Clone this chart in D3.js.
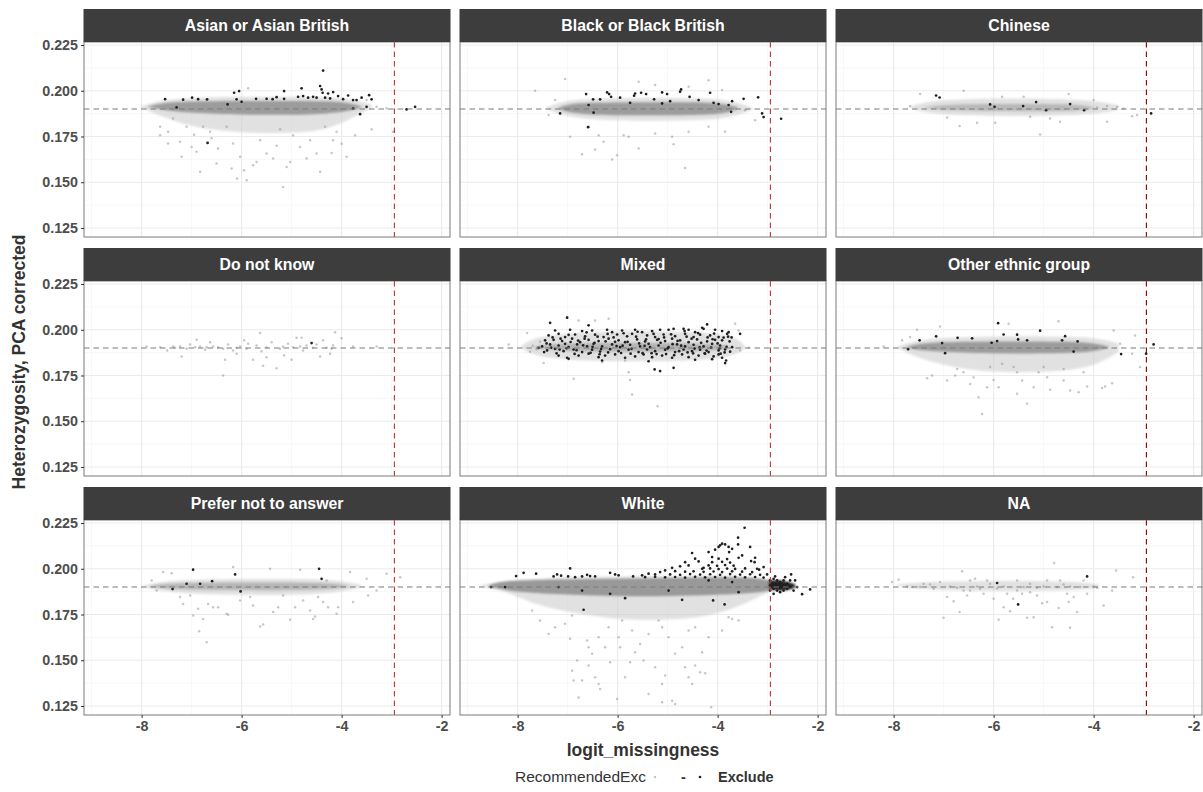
<!DOCTYPE html>
<html><head><meta charset="utf-8">
<script src="https://cdn.jsdelivr.net/npm/d3@7"></script>
<style>body{margin:0;background:#fff}svg{display:block}</style>
</head><body><svg id="c" width="1203" height="792"></svg>
<script>
// ---------------- DATA ----------------
const panelNames = ["Asian or Asian British","Black or Black British","Chinese","Do not know","Mixed","Other ethnic group","Prefer not to answer","White","NA"];
const xTicks = [-8,-6,-4,-2];
const xMinor = [-9,-7,-5,-3];
const yTicks = [0.125,0.15,0.175,0.2,0.225];
const yMinor = [0.1375,0.1625,0.1875,0.2125];
const hetMean = 0.19;
const missThreshold = -2.944;
const legendLevels = ["-","Exclude"];

// dense-core bands [x, low, high]
const asianCore = [[-7.9,0.1912,0.1912],[-7.6,0.1895,0.1935],[-7.0,0.1878,0.1942],[-6.0,0.1868,0.1944],[-5.0,0.1868,0.1944],[-4.3,0.1874,0.1943],[-3.9,0.1885,0.1937],[-3.6,0.1910,0.1914]];
const asianHalo = [[-8.05,0.1912,0.1912],[-7.6,0.1860,0.1950],[-7.0,0.1800,0.1962],[-6.0,0.1768,0.1968],[-5.0,0.1768,0.1968],[-4.3,0.1785,0.1966],[-3.8,0.1850,0.1955],[-3.4,0.1905,0.1925]];
const blackCore = [[-7.2,0.1905,0.1905],[-7.0,0.1880,0.1928],[-6.5,0.1868,0.1935],[-5.5,0.1865,0.1938],[-4.5,0.1867,0.1938],[-3.9,0.1872,0.1932],[-3.6,0.1900,0.1910]];
const blackHalo = [[-7.45,0.1905,0.1905],[-7.1,0.1862,0.1945],[-6.5,0.1840,0.1958],[-5.5,0.1835,0.1962],[-4.5,0.1838,0.1960],[-3.9,0.1845,0.1955],[-3.45,0.1880,0.1925],[-3.3,0.1900,0.1905]];
const chineseCore = [[-7.4,0.1908,0.1908],[-7.0,0.1893,0.1925],[-6.0,0.1888,0.1928],[-5.0,0.1888,0.1928],[-4.3,0.1890,0.1925],[-4.0,0.1905,0.1910]];
const chineseHalo = [[-7.7,0.1910,0.1910],[-7.3,0.1870,0.1950],[-6.0,0.1862,0.1958],[-5.0,0.1862,0.1958],[-4.0,0.1870,0.1948],[-3.5,0.1895,0.1920]];
const mixedCore = [[-7.7,0.1905,0.1905],[-7.4,0.1885,0.1925],[-6.0,0.1878,0.1930],[-4.5,0.1880,0.1928],[-3.8,0.1895,0.1915]];
const mixedHalo = [[-7.95,0.1905,0.1905],[-7.6,0.1840,0.1975],[-6.0,0.1825,0.1995],[-4.5,0.1830,0.1990],[-3.7,0.1850,0.1975],[-3.45,0.1900,0.1910]];
const otherCore = [[-7.75,0.1905,0.1905],[-7.5,0.1885,0.1928],[-6.5,0.1872,0.1935],[-5.5,0.1870,0.1937],[-4.5,0.1872,0.1935],[-4.0,0.1880,0.1928],[-3.7,0.1903,0.1908]];
const otherHalo = [[-7.95,0.1905,0.1905],[-7.5,0.1840,0.1950],[-6.5,0.1775,0.1962],[-5.5,0.1765,0.1965],[-4.5,0.1775,0.1962],[-3.9,0.1810,0.1955],[-3.5,0.1880,0.1925]];
const preferCore = [[-7.85,0.1905,0.1905],[-7.5,0.1888,0.1922],[-6.0,0.1882,0.1925],[-4.5,0.1884,0.1925],[-4.0,0.1895,0.1915],[-3.85,0.1905,0.1905]];
const preferHalo = [[-8.0,0.1905,0.1905],[-7.5,0.1868,0.1940],[-6.0,0.1855,0.1945],[-4.5,0.1858,0.1945],[-3.9,0.1880,0.1930],[-3.6,0.1900,0.1910]];
const whiteCore = [[-8.6,0.1905,0.1905],[-8.4,0.1891,0.1927],[-8.0,0.1872,0.1936],[-7.0,0.1858,0.1942],[-6.0,0.1849,0.1945],[-5.0,0.1849,0.1949],[-4.0,0.1858,0.1954],[-3.3,0.1867,0.1951],[-2.95,0.1881,0.1936]];
const whiteHalo = [[-8.8,0.1905,0.1905],[-8.3,0.1885,0.1932],[-7.7,0.1808,0.1945],[-7.0,0.1763,0.1955],[-6.0,0.1720,0.1958],[-5.0,0.1720,0.1960],[-4.2,0.1738,0.1962],[-3.6,0.1790,0.1962],[-3.2,0.1845,0.1955],[-2.9,0.1880,0.1935]];
const whiteExcludeCore = [[-2.97,0.1890,0.1935],[-2.8,0.1878,0.1940],[-2.6,0.1882,0.1930],[-2.45,0.1895,0.1915]];
const naHalo = [[-8.0,0.1910,0.1910],[-7.5,0.1885,0.1928],[-6.0,0.1878,0.1935],[-4.5,0.1880,0.1932],[-3.9,0.1895,0.1915]];

// sparse individual samples [logit_missingness, heterozygosity]
const asianKeep = [[-7.47,0.1776],[-7.23,0.1721],[-7.2,0.1639],[-7.0,0.1693],[-6.9,0.1666],[-6.83,0.1557],[-6.77,0.1803],[-6.5,0.1602],[-6.47,0.1684],[-6.17,0.1712],[-6.09,0.1520],[-6.03,0.1639],[-5.9,0.1511],[-5.77,0.1593],[-5.63,0.1730],[-5.5,0.1657],[-5.37,0.1630],[-5.17,0.1474],[-5.1,0.1584],[-5.03,0.1611],[-4.83,0.1693],[-4.63,0.1730],[-4.5,0.1657],[-4.43,0.1557],[-4.33,0.1803],[-4.17,0.1730],[-3.9,0.1639],[-3.73,0.1757],[-3.4,0.1790],[-2.97,0.1776],[-7.63,0.1803],[-7.37,0.1849],[-7.1,0.1803],[-6.63,0.1776],[-6.3,0.1803],[-5.23,0.1790],[-4.97,0.1757],[-4.1,0.1776],[-5.87,0.2013],[-6.7,0.1949],[-3.3,0.1912],[-3.1,0.1905],[-3.5,0.1949],[-7.47,0.1712],[-7.63,0.1757],[-5.7,0.161],[-6.6,0.174],[-4.7,0.163],[-5.3,0.170],[-6.95,0.176],[-4.2,0.166],[-5.95,0.1565],[-4.0,0.171],[-6.2,0.1575]];
const asianExclude = [[-7.53,0.1954],[-7.3,0.1909],[-7.17,0.1951],[-6.99,0.1962],[-6.87,0.1954],[-6.69,0.1953],[-6.68,0.1715],[-6.28,0.1925],[-6.15,0.1989],[-6.05,0.1998],[-6.1,0.1953],[-6.0,0.1940],[-5.71,0.1956],[-5.5,0.1956],[-5.38,0.1954],[-5.3,0.1965],[-5.15,0.1998],[-5.15,0.1956],[-4.87,0.1967],[-4.8,0.2013],[-4.77,0.1971],[-4.67,0.1962],[-4.57,0.1967],[-4.5,0.1962],[-4.43,0.2026],[-4.4,0.2007],[-4.37,0.2110],[-4.38,0.1989],[-4.33,0.1962],[-4.27,0.1985],[-4.17,0.1993],[-4.23,0.1958],[-4.07,0.1971],[-3.97,0.1954],[-3.87,0.1974],[-3.77,0.1949],[-3.7,0.1949],[-3.6,0.1962],[-3.5,0.1912],[-3.45,0.1976],[-3.4,0.1953],[-3.63,0.1872],[-3.77,0.1903],[-2.7,0.1898],[-2.53,0.1912]];

const blackKeep = [[-7.65,0.2000],[-7.05,0.2064],[-6.95,0.1748],[-6.71,0.1653],[-6.45,0.1679],[-6.28,0.1721],[-6.11,0.1624],[-6.01,0.1648],[-5.88,0.1757],[-5.78,0.1748],[-5.58,0.1684],[-5.58,0.2049],[-5.25,0.1766],[-4.91,0.1748],[-4.88,0.1708],[-4.65,0.1578],[-4.58,0.1776],[-4.18,0.2058],[-3.91,0.2004],[-3.85,0.1776],[-4.18,0.1803],[-6.38,0.1757],[-3.25,0.1839],[-3.45,0.1894],[-7.25,0.1949],[-7.38,0.1867],[-5.25,0.2031],[-6.58,0.1803],[-4.58,0.2022]];
const blackExclude = [[-7.15,0.1876],[-6.63,0.1982],[-6.59,0.1801],[-6.49,0.1953],[-6.48,0.1880],[-6.58,0.1922],[-6.35,0.1953],[-6.21,0.1991],[-6.17,0.1982],[-6.13,0.1967],[-5.95,0.1962],[-5.75,0.1934],[-5.67,0.1973],[-5.65,0.1985],[-5.53,0.1989],[-5.43,0.1982],[-5.27,0.1953],[-5.11,0.1991],[-5.01,0.1982],[-4.95,0.1943],[-4.73,0.2007],[-4.75,0.1995],[-4.56,0.1967],[-4.38,0.1949],[-4.15,0.1989],[-4.08,0.1934],[-3.98,0.1927],[-3.78,0.1922],[-3.71,0.1943],[-3.48,0.1956],[-3.19,0.1964],[-3.11,0.1876],[-3.08,0.1856],[-2.73,0.1847],[-3.73,0.1885],[-5.11,0.1931]];

const chineseKeep = [[-7.67,0.1916],[-7.47,0.1982],[-6.6,0.2000],[-6.33,0.1825],[-6.68,0.1807],[-5.97,0.1825],[-5.83,0.1967],[-5.4,0.1967],[-5.07,0.1761],[-4.87,0.1849],[-4.67,0.1830],[-4.5,0.1982],[-3.73,0.1830],[-3.93,0.1909],[-3.73,0.1916],[-3.53,0.1912],[-3.4,0.1903],[-3.23,0.1861],[-3.13,0.1867],[-4.0,0.1949],[-5.27,0.1858],[-6.93,0.1854]];
const chineseExclude = [[-7.15,0.1974],[-7.08,0.1963],[-6.07,0.1925],[-5.98,0.1912],[-5.41,0.1916],[-5.15,0.1938],[-4.95,0.1894],[-4.47,0.1927],[-4.19,0.1894],[-2.85,0.1876]];

const dnkKeep = [[-7.9,0.1909],[-7.63,0.1905],[-7.49,0.1887],[-7.33,0.1901],[-7.23,0.1909],[-7.2,0.1854],[-7.1,0.1896],[-7.03,0.1920],[-6.93,0.1905],[-6.9,0.1945],[-6.83,0.1909],[-6.73,0.1891],[-6.63,0.1932],[-6.57,0.1909],[-6.47,0.1905],[-6.37,0.1896],[-6.33,0.1836],[-6.27,0.1920],[-6.17,0.1887],[-6.1,0.1901],[-6.03,0.1909],[-5.95,0.1942],[-5.9,0.1896],[-5.77,0.1836],[-5.7,0.1914],[-5.63,0.1982],[-5.6,0.1883],[-5.57,0.1803],[-5.5,0.1905],[-5.4,0.1932],[-5.3,0.1790],[-5.23,0.1896],[-5.17,0.1909],[-5.07,0.1923],[-5.0,0.1836],[-4.97,0.1905],[-4.9,0.1956],[-4.8,0.1956],[-4.77,0.1887],[-4.7,0.1914],[-4.57,0.1901],[-4.5,0.1920],[-4.43,0.1854],[-4.37,0.1942],[-4.3,0.1901],[-4.23,0.1869],[-4.2,0.1896],[-4.17,0.1914],[-4.13,0.1987],[-4.0,0.1954],[-6.37,0.1750],[-3.77,0.1909],[-3.3,0.1909],[-6.1,0.1869],[-5.5,0.1850],[-5.15,0.1859],[-6.7,0.1905],[-7.37,0.1909],[-5.87,0.1923],[-4.83,0.1909]];
const dnkExclude = [[-4.6,0.1927]];

const mixedKeep = [[-8.18,0.1920],[-7.81,0.1982],[-7.48,0.1818],[-7.01,0.2069],[-6.78,0.2051],[-6.88,0.1732],[-6.45,0.2051],[-6.18,0.2060],[-5.78,0.1768],[-5.75,0.1726],[-5.71,0.1646],[-5.2,0.1582],[-5.85,0.1832],[-6.31,0.1823],[-3.55,0.1887],[-3.58,0.1996],[-3.65,0.2033],[-3.38,0.1901],[-7.7,0.1912],[-7.62,0.1893],[-7.55,0.1934],[-7.75,0.1880]];
const mixedExclude = [[-7.35,0.2038],[-7.01,0.2066],[-6.58,0.2024],[-4.21,0.2029],[-4.68,0.2005],[-4.31,0.2011],[-4.98,0.2000],[-3.55,0.1978],[-5.26,0.1783],[-5.15,0.1774],[-4.88,0.1792],[-3.85,0.1818],[-3.83,0.1832],
[-7.25,0.1996],[-6.95,0.2000],[-6.71,0.1993],[-6.51,0.1996],[-6.21,0.2000],[-6.11,0.1987],[-5.91,0.1996],[-5.65,0.2000],[-5.51,0.1987],[-5.31,0.1993],[-5.15,0.2000],[-4.88,0.2005],[-4.58,0.2000],[-4.45,0.1987],[-4.28,0.2005],[-4.05,0.2000],[-3.91,0.1993],[-3.78,0.1987],
[-7.38,0.1969],[-7.18,0.1978],[-7.05,0.1960],[-6.85,0.1974],[-6.65,0.1964],[-6.45,0.1973],[-6.28,0.1960],[-6.01,0.1974],[-5.81,0.1964],[-5.71,0.1978],[-5.41,0.1969],[-5.25,0.1960],[-5.08,0.1974],[-4.85,0.1965],[-4.65,0.1978],[-4.48,0.1960],[-4.35,0.1973],[-4.15,0.1969],[-3.98,0.1960],[-3.81,0.1978],
[-7.45,0.1942],[-7.28,0.1945],[-7.11,0.1938],[-6.91,0.1951],[-6.75,0.1932],[-6.58,0.1945],[-6.38,0.1938],[-6.18,0.1951],[-5.98,0.1942],[-5.85,0.1932],[-5.61,0.1947],[-5.45,0.1936],[-5.21,0.1945],[-5.05,0.1938],[-4.91,0.1951],[-4.75,0.1942],[-4.58,0.1932],[-4.41,0.1947],[-4.21,0.1936],[-4.05,0.1945],[-3.91,0.1942],[-7.05,0.1923],
[-7.51,0.1909],[-7.35,0.1920],[-7.18,0.1914],[-6.98,0.1905],[-6.81,0.1920],[-6.61,0.1909],[-6.48,0.1923],[-6.31,0.1909],[-6.11,0.1920],[-5.95,0.1905],[-5.75,0.1918],[-5.55,0.1909],[-5.38,0.1923],[-5.18,0.1914],[-4.98,0.1905],[-4.81,0.1920],[-4.65,0.1909],[-4.48,0.1918],[-4.28,0.1909],[-4.11,0.1923],[-3.95,0.1914],[-3.71,0.1905],[-7.58,0.1901],
[-7.41,0.1887],[-7.25,0.1896],[-7.08,0.1883],[-6.88,0.1892],[-6.71,0.1878],[-6.51,0.1891],[-6.35,0.1881],[-6.15,0.1894],[-5.98,0.1883],[-5.78,0.1891],[-5.58,0.1878],[-5.41,0.1892],[-5.25,0.1883],[-5.05,0.1891],[-4.85,0.1878],[-4.68,0.1892],[-4.51,0.1883],[-4.35,0.1891],[-4.18,0.1878],[-3.98,0.1887],[-3.85,0.1892],
[-7.18,0.1859],[-7.01,0.1847],[-6.78,0.1859],[-6.58,0.1869],[-6.38,0.1850],[-6.25,0.1859],[-6.05,0.1865],[-5.85,0.1847],[-5.65,0.1854],[-5.48,0.1865],[-5.31,0.1850],[-5.11,0.1859],[-4.91,0.1847],[-4.71,0.1865],[-4.58,0.1850],[-4.38,0.1859],[-4.25,0.1869],[-4.08,0.1854],[-3.91,0.1847],[-3.98,0.1865],
[-6.98,0.1841],[-6.31,0.1832],[-5.38,0.1828],[-4.45,0.1836],[-4.11,0.1839],
[-7.42,0.1925],[-7.33,0.1902],[-7.22,0.1871],[-7.14,0.1951],[-7.02,0.1899],[-6.94,0.1933],[-6.86,0.1868],[-6.79,0.1941],[-6.69,0.1915],[-6.62,0.1986],[-6.54,0.1874],[-6.46,0.1929],[-6.4,0.1962],[-6.33,0.1895],[-6.24,0.1937],[-6.19,0.1876],[-6.08,0.1958],[-6.02,0.1911],[-5.93,0.1873],[-5.88,0.1981],[-5.8,0.1934],[-5.72,0.1896],[-5.63,0.1962],[-5.57,0.1925],[-5.5,0.1872],[-5.43,0.1947],[-5.35,0.1905],[-5.28,0.1977],[-5.22,0.1867],[-5.14,0.1929],[-5.07,0.1958],[-5.0,0.1898],[-4.93,0.1975],[-4.87,0.1861],[-4.8,0.1939],[-4.73,0.1913],[-4.66,0.1993],[-4.6,0.1876],[-4.52,0.1951],[-4.46,0.1897],[-4.39,0.1982],[-4.33,0.1929],[-4.26,0.1871],[-4.2,0.1958],[-4.13,0.1902],[-4.07,0.1979],[-4.0,0.1925],[-3.94,0.1869],[-3.88,0.1957],[-3.82,0.1906],[-3.76,0.1936],[-3.72,0.1958],
[-7.47,0.1878],[-7.3,0.1958],[-7.16,0.1892],[-6.98,0.1972],[-6.82,0.1888],[-6.66,0.1951],[-6.5,0.1906],[-6.36,0.1866],[-6.2,0.1977],[-6.05,0.1934],[-5.9,0.1913],[-5.74,0.1869],[-5.6,0.1989],[-5.46,0.1912],[-5.32,0.1872],[-5.18,0.1949],[-5.03,0.1867],[-4.9,0.1921],[-4.77,0.1883],[-4.62,0.1962],[-4.49,0.1871],[-4.36,0.1904],[-4.22,0.1886],[-4.1,0.1948],[-3.96,0.1898],[-3.86,0.1876],[-3.79,0.1962],[-3.75,0.1880]];

const otherKeep = [[-8.2,0.1909],[-7.83,0.1942],[-7.53,0.2000],[-7.33,0.1735],[-7.23,0.1750],[-7.07,0.2018],[-6.93,0.1723],[-6.77,0.1750],[-6.6,0.1768],[-6.47,0.1704],[-6.4,0.1741],[-6.3,0.1631],[-6.23,0.1540],[-6.13,0.1686],[-6.0,0.1726],[-5.9,0.1686],[-5.83,0.1814],[-5.7,0.2033],[-5.53,0.1768],[-5.43,0.1723],[-5.33,0.1595],[-5.2,0.1686],[-5.1,0.1768],[-4.93,0.1741],[-4.87,0.1672],[-4.7,0.2047],[-4.6,0.1723],[-4.47,0.1668],[-4.3,0.1659],[-4.13,0.1690],[-3.83,0.1682],[-3.77,0.1690],[-3.63,0.1708],[-3.6,0.1996],[-3.47,0.1923],[-3.17,0.1969],[-3.07,0.1796],[-3.23,0.1869],[-7.67,0.1960],[-6.07,0.1796],[-5.6,0.1796],[-5.0,0.1796],[-4.6,0.1786],[-4.2,0.1768],[-6.73,0.1786],[-5.53,0.1650]];
const otherExclude = [[-7.71,0.1894],[-7.48,0.1942],[-7.15,0.1964],[-7.03,0.1927],[-6.97,0.1872],[-6.72,0.1956],[-6.43,0.1953],[-6.04,0.1929],[-5.93,0.1938],[-5.91,0.2036],[-5.8,0.1974],[-5.53,0.1973],[-5.51,0.1947],[-5.33,0.1942],[-5.07,0.1995],[-4.63,0.1942],[-4.57,0.1965],[-4.4,0.1881],[-4.32,0.1936],[-3.45,0.1867],[-2.95,0.1869],[-2.8,0.1920]];

const preferKeep = [[-7.8,0.1936],[-7.7,0.1881],[-7.57,0.1982],[-7.4,0.1976],[-7.17,0.1808],[-7.03,0.1854],[-6.97,0.1745],[-6.87,0.1781],[-6.85,0.1659],[-6.77,0.1726],[-6.7,0.1599],[-6.67,0.1808],[-6.57,0.1790],[-6.47,0.1790],[-6.3,0.1754],[-6.27,0.1748],[-6.17,0.2009],[-6.03,0.1827],[-5.83,0.1845],[-5.63,0.1684],[-5.57,0.1695],[-5.37,0.1763],[-5.27,0.1790],[-5.17,0.1854],[-5.03,0.1721],[-4.93,0.1790],[-4.83,0.1995],[-4.77,0.1827],[-4.63,0.1772],[-4.53,0.1739],[-4.57,0.1726],[-4.47,0.1845],[-4.37,0.1818],[-4.27,0.1790],[-4.1,0.1754],[-4.07,0.1790],[-3.83,0.1982],[-3.77,0.1818],[-3.5,0.1945],[-3.47,0.1854],[-3.3,0.1881],[-3.1,0.1973],[-2.83,0.1954],[-7.23,0.1845],[-5.77,0.1799],[-4.3,0.1936],[-5.43,0.2000]];
const preferExclude = [[-7.38,0.1889],[-7.1,0.1918],[-6.97,0.1995],[-6.83,0.1918],[-6.59,0.1932],[-6.13,0.1969],[-6.02,0.1876],[-4.45,0.2000],[-4.4,0.1945]];

const whiteKeep = [[-7.71,0.1772],[-7.55,0.1717],[-7.25,0.1681],[-6.95,0.1617],[-6.91,0.1443],[-6.88,0.1389],[-6.81,0.1498],[-6.71,0.1389],[-6.61,0.1608],[-6.58,0.1471],[-6.51,0.1535],[-6.45,0.1407],[-6.38,0.1370],[-6.35,0.1343],[-6.25,0.1571],[-6.15,0.1489],[-6.01,0.1288],[-5.98,0.1626],[-5.95,0.1571],[-5.85,0.1407],[-5.75,0.1489],[-5.65,0.1544],[-5.55,0.1589],[-5.48,0.1498],[-5.38,0.1316],[-5.25,0.1462],[-5.11,0.1370],[-5.05,0.1416],[-4.98,0.1626],[-4.91,0.1279],[-4.85,0.1535],[-4.71,0.1571],[-4.65,0.1462],[-4.58,0.1407],[-4.51,0.1370],[-4.45,0.1471],[-4.35,0.1434],[-4.31,0.1544],[-4.25,0.1429],[-4.18,0.1626],[-4.13,0.1243],[-3.91,0.1662],[-3.78,0.1735],[-3.71,0.1726],[-3.58,0.1717],[-4.85,0.1261],[-5.11,0.1270],[-6.78,0.1297],[-6.58,0.1571],[-7.38,0.1644],[-6.38,0.1626],[-5.38,0.1644],[-4.58,0.1662],[-7.05,0.1699],[-5.71,0.1662],[-5.11,0.1681],[-4.45,0.1681],[-6.18,0.1681],[-6.91,0.1745],[-5.18,0.1717],[-5.91,0.1717]];
const whiteExclude = [[-8.03,0.1960],[-7.88,0.1978],[-7.63,0.1973],[-7.28,0.1958],[-7.21,0.1969],[-7.13,0.1962],[-6.99,0.1958],[-6.95,0.2002],[-6.85,0.1954],[-6.71,0.1958],[-6.61,0.1967],[-6.55,0.1960],[-6.45,0.1958],[-6.15,0.1978],[-6.05,0.1969],[-5.98,0.1964],[-5.69,0.1958],[-5.51,0.1964],[-5.38,0.1973],[-5.25,0.1969],[-5.15,0.1982],[-5.05,0.1991],[-4.91,0.2005],[-4.85,0.1987],[-4.75,0.2013],[-4.65,0.2036],[-4.58,0.2018],[-4.51,0.2086],[-4.45,0.2055],[-4.38,0.2040],[-4.28,0.2005],[-4.18,0.2091],[-4.11,0.2064],[-4.05,0.2104],[-3.98,0.2119],[-3.95,0.2128],[-3.91,0.2137],[-3.85,0.2133],[-3.78,0.2119],[-3.77,0.2091],[-3.71,0.2109],[-3.59,0.2170],[-3.59,0.2133],[-3.58,0.2060],[-3.51,0.2073],[-3.46,0.2224],[-3.35,0.2119],[-3.33,0.2042],[-3.26,0.2036],[-3.25,0.2060],[-3.21,0.2000],[-3.17,0.1995],[-3.08,0.2009],[-3.01,0.1969],[-2.53,0.1969],[-6.68,0.1776],[-6.15,0.1863],[-5.85,0.1839],[-4.71,0.1830],[-4.09,0.1827],[-3.86,0.1805],[-3.58,0.1872],[-3.71,0.1927],[-4.18,0.1936],[-4.98,0.1881],[-6.71,0.1881],[-7.18,0.1900],[-8.25,0.1900],[-8.53,0.1900],
[-5.45,0.1954],[-5.25,0.1956],[-5.05,0.1953],[-4.85,0.1955],[-4.65,0.1952],[-4.45,0.1956],[-4.25,0.1953],[-4.05,0.1955],[-3.85,0.1952],[-3.65,0.1956],[-3.45,0.1953],[-3.25,0.1955],[-3.08,0.1952],
[-4.95,0.1969],[-4.75,0.1967],[-4.55,0.1971],[-4.35,0.1968],[-4.15,0.1970],[-3.95,0.1967],[-3.75,0.1971],[-3.55,0.1968],[-3.35,0.1970],[-3.15,0.1967],
[-4.65,0.1984],[-4.48,0.1986],[-4.28,0.1983],[-4.08,0.1985],[-3.91,0.1982],[-3.71,0.1986],[-3.51,0.1984],[-3.31,0.1982],
[-4.31,0.2000],[-4.15,0.2002],[-3.98,0.1998],[-3.81,0.2001],[-3.65,0.1999],[-3.45,0.2002],
[-4.18,0.2018],[-4.01,0.2016],[-3.85,0.2020],[-3.68,0.2017],[-4.11,0.2036],[-3.91,0.2038],[-3.75,0.2034],[-3.98,0.2055],[-3.81,0.2053],
[-2.95,0.1936],[-2.95,0.1909],[-2.95,0.1881],[-2.88,0.1945],[-2.88,0.1918],[-2.88,0.1891],[-2.88,0.1863],[-2.81,0.1936],[-2.81,0.1909],[-2.81,0.1881],[-2.75,0.1927],[-2.75,0.1900],[-2.75,0.1872],[-2.68,0.1936],[-2.68,0.1909],[-2.68,0.1881],[-2.61,0.1918],[-2.61,0.1891],[-2.55,0.1936],[-2.55,0.1903],[-2.48,0.1881],[-2.41,0.1900],[-2.31,0.1861],[-2.15,0.1887],[-2.45,0.1936],[-2.65,0.1954],[-2.85,0.1958]];

const naKeep = [[-8.03,0.1927],[-7.9,0.1940],[-7.63,0.1900],[-7.47,0.1900],[-7.27,0.1914],[-7.07,0.1927],[-7.0,0.1732],[-6.93,0.1845],[-6.8,0.1823],[-6.68,0.1763],[-6.63,0.1987],[-6.6,0.1881],[-6.53,0.1854],[-6.47,0.1936],[-6.37,0.1945],[-6.27,0.1891],[-6.2,0.1863],[-6.07,0.1918],[-6.0,0.1836],[-5.9,0.1721],[-5.8,0.1790],[-5.73,0.1863],[-5.67,0.1768],[-5.61,0.1836],[-5.53,0.1936],[-5.43,0.1863],[-5.33,0.1732],[-5.27,0.1918],[-5.2,0.1735],[-5.13,0.1896],[-5.03,0.1812],[-4.93,0.1818],[-4.83,0.1681],[-4.79,0.2031],[-4.7,0.1786],[-4.6,0.1914],[-4.5,0.1818],[-4.47,0.1677],[-4.4,0.1845],[-4.33,0.1763],[-4.27,0.1900],[-4.2,0.1936],[-4.13,0.1863],[-4.0,0.1903],[-3.93,0.1896],[-3.8,0.1799],[-3.63,0.1881],[-3.55,0.1991],[-3.21,0.1954],[-7.4,0.1918],[-6.87,0.1903],[-6.33,0.1903],[-5.8,0.1903],[-5.4,0.1900],[-5.0,0.1903],[-4.73,0.1900],[-4.47,0.1903],[-5.53,0.1881],[-5.93,0.1891],[-5.27,0.1872],[-4.93,0.1936],[-6.13,0.1936],[-6.73,0.1896],[-7.2,0.1891],[-7.73,0.1903],[-6.47,0.1881],[-4.67,0.1936],[-4.53,0.1863],[-5.13,0.1854]];
const naExclude = [[-5.93,0.1922],[-5.51,0.1805],[-4.13,0.1958]];

// assemble
const coreBands = [asianCore, blackCore, chineseCore, null, mixedCore, otherCore, preferCore, whiteCore, null];
const haloBands = [asianHalo, blackHalo, chineseHalo, null, mixedHalo, otherHalo, preferHalo, whiteHalo, naHalo];
const keepPts = [asianKeep, blackKeep, chineseKeep, dnkKeep, mixedKeep, otherKeep, preferKeep, whiteKeep, naKeep];
const excludePts = [asianExclude, blackExclude, chineseExclude, dnkExclude, mixedExclude, otherExclude, preferExclude, whiteExclude, naExclude];
const excludeBands = [null,null,null,null,null,null,null,whiteExcludeCore,null];

// ---------------- STYLE / LAYOUT ----------------
const coreOpacity = [0.95,0.95,0.55,0,0.6,0.95,0.6,1,0];
const vlineColor = ["#b9343b","#b9343b","#8b0000","#b9343b","#b9343b","#8b0000","#b9343b","#b9343b","#8b0000"];
const W = 366, H = 195, stripH = 33;
const colX = [84, 460, 836], rowY = [42, 281, 520];
const FONT = "'Liberation Sans', Arial, Helvetica, sans-serif";

const svg = d3.select("#c").style("font-family", FONT);
const defs = svg.append("defs");
defs.append("filter").attr("id","soft").attr("x","-10%").attr("y","-50%").attr("width","120%").attr("height","200%")
  .append("feGaussianBlur").attr("stdDeviation", 0.9);

const x = d3.scaleLinear().domain([-9.152, -1.832]).range([0, W]);
const y = d3.scaleLinear().domain([0.12008, 0.22664]).range([H, 0]);
const area = d3.area().x(d => x(d[0])).y0(d => y(d[1])).y1(d => y(d[2])).curve(d3.curveBasis);

panelNames.forEach((name, i) => {
  const c = i % 3, r = Math.floor(i / 3);
  const g = svg.append("g").attr("transform", `translate(${colX[c]},${rowY[r]})`);
  g.append("rect").attr("width", W).attr("height", H).attr("fill", "#fff");
  g.selectAll(".gxm").data(xMinor).enter().append("line")
    .attr("x1", d => x(d)).attr("x2", d => x(d)).attr("y1", 0).attr("y2", H)
    .attr("stroke", "#f2f2f2").attr("stroke-width", 0.6);
  g.selectAll(".gym").data(yMinor).enter().append("line")
    .attr("y1", d => y(d)).attr("y2", d => y(d)).attr("x1", 0).attr("x2", W)
    .attr("stroke", "#f2f2f2").attr("stroke-width", 0.6);
  g.selectAll(".gx").data(xTicks).enter().append("line")
    .attr("x1", d => x(d)).attr("x2", d => x(d)).attr("y1", 0).attr("y2", H)
    .attr("stroke", "#ebebeb").attr("stroke-width", 1.1);
  g.selectAll(".gy").data(yTicks).enter().append("line")
    .attr("y1", d => y(d)).attr("y2", d => y(d)).attr("x1", 0).attr("x2", W)
    .attr("stroke", "#ebebeb").attr("stroke-width", 1.1);

  const clipId = "clip" + i;
  defs.append("clipPath").attr("id", clipId).append("rect").attr("width", W).attr("height", H);
  const pg = g.append("g").attr("clip-path", `url(#${clipId})`);

  if (haloBands[i]) pg.append("path").attr("d", area(haloBands[i])).attr("fill", "#c9c9c9")
    .attr("opacity", 0.55).attr("filter", "url(#soft)");
  if (coreBands[i]) pg.append("path").attr("d", area(coreBands[i])).attr("fill", "#999999")
    .attr("opacity", coreOpacity[i]).attr("filter", "url(#soft)");
  pg.selectAll(".k").data(keepPts[i]).enter().append("circle")
    .attr("cx", d => x(d[0])).attr("cy", d => y(d[1])).attr("r", 1.25)
    .attr("fill", "#8f8f8f").attr("fill-opacity", 0.5);
  if (excludeBands[i]) pg.append("path").attr("d", area(excludeBands[i])).attr("fill", "#222")
    .attr("filter", "url(#soft)");
  pg.selectAll(".e").data(excludePts[i]).enter().append("circle")
    .attr("cx", d => x(d[0])).attr("cy", d => y(d[1])).attr("r", 1.35)
    .attr("fill", "#1f1f1f");

  pg.append("line").attr("x1", 0).attr("x2", W).attr("y1", y(hetMean)).attr("y2", y(hetMean))
    .attr("stroke", "#7a7a7a").attr("stroke-width", 1.1).attr("stroke-dasharray", "5.5,4");
  pg.append("line").attr("x1", x(missThreshold)).attr("x2", x(missThreshold)).attr("y1", 0).attr("y2", H)
    .attr("stroke", vlineColor[i]).attr("stroke-width", 1.1).attr("stroke-dasharray", "5.5,4");

  g.append("rect").attr("width", W).attr("height", H).attr("fill", "none")
    .attr("stroke", "#7a7a7a").attr("stroke-width", 1);

  g.append("rect").attr("x", -0.5).attr("y", -stripH).attr("width", W + 1).attr("height", stripH)
    .attr("fill", "#3d3d3d");
  g.append("text").attr("x", W / 2).attr("y", -stripH / 2).attr("dy", "0.36em")
    .attr("text-anchor", "middle").attr("fill", "#fff").attr("font-weight", "bold")
    .attr("font-size", "15.8px").text(name);

  if (c === 0) {
    const ax = g.append("g").call(d3.axisLeft(y).tickValues(yTicks).tickFormat(d3.format(".3f")).tickSize(3).tickPadding(3));
    ax.select(".domain").remove();
    ax.selectAll(".tick line").attr("stroke", "#333");
    ax.selectAll("text").attr("font-family", FONT).attr("font-size", "14.3px").attr("font-weight", "bold").attr("fill", "#4d4d4d");
  }
  if (r === 2) {
    const ax = g.append("g").attr("transform", `translate(0,${H})`)
      .call(d3.axisBottom(x).tickValues(xTicks).tickFormat(d => String(d)).tickSize(3).tickPadding(3));
    ax.select(".domain").remove();
    ax.selectAll(".tick line").attr("stroke", "#333");
    ax.selectAll("text").attr("font-family", FONT).attr("font-size", "14.3px").attr("font-weight", "bold").attr("fill", "#4d4d4d");
  }
});

svg.append("text").attr("x", (colX[0] + colX[2] + W) / 2).attr("y", 756)
  .attr("text-anchor", "middle").attr("font-size", "17.5px").attr("font-weight", "bold").attr("fill", "#333")
  .text("logit_missingness");
svg.append("text").attr("transform", `translate(25,${(rowY[0] - stripH + rowY[2] + H) / 2}) rotate(-90)`)
  .attr("text-anchor", "middle").attr("font-size", "17.5px").attr("font-weight", "bold").attr("fill", "#333")
  .text("Heterozygosity, PCA corrected");

const lg = svg.append("g").attr("transform", "translate(515,782)");
lg.append("text").attr("x", 0).attr("y", 0).attr("font-size", "15.5px").attr("fill", "#333").text("RecommendedExc");
lg.append("circle").attr("cx", 140).attr("cy", -5).attr("r", 1.25).attr("fill", "#8f8f8f").attr("fill-opacity", 0.5);
lg.append("text").attr("x", 166).attr("y", 0).attr("font-size", "14.5px").attr("font-weight", "bold").attr("fill", "#333").text(legendLevels[0]);
lg.append("circle").attr("cx", 185).attr("cy", -5).attr("r", 1.35).attr("fill", "#1f1f1f");
lg.append("text").attr("x", 203).attr("y", 0).attr("font-size", "14.5px").attr("font-weight", "bold").attr("fill", "#333").text(legendLevels[1]);
</script></body></html>
